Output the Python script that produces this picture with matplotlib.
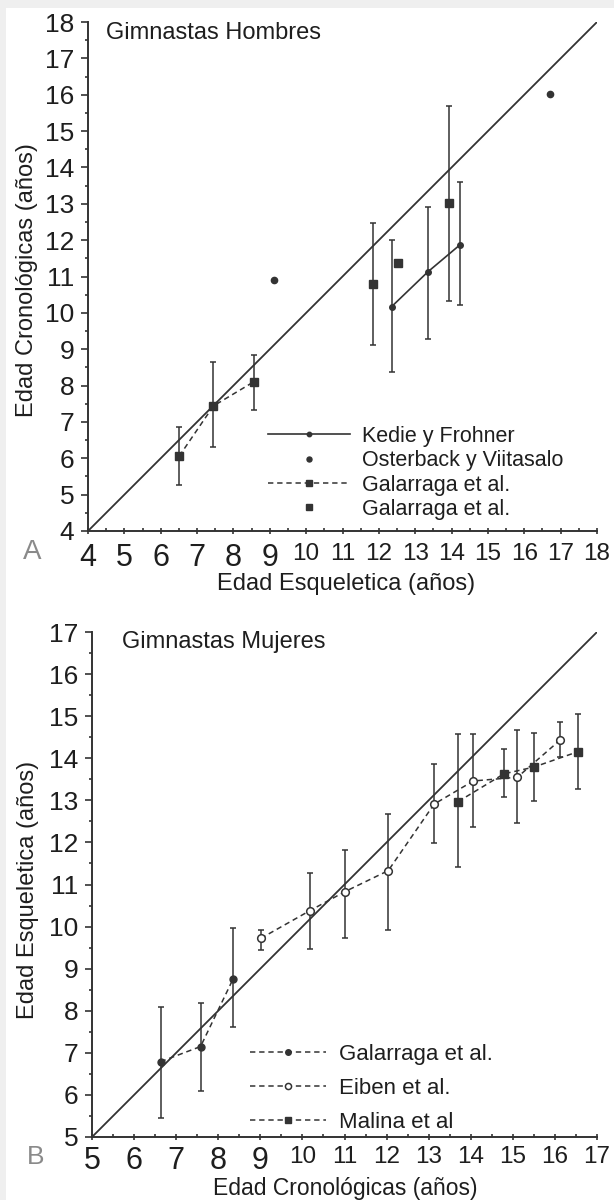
import numpy as np
import matplotlib
matplotlib.use('Agg')
import matplotlib.pyplot as plt
from matplotlib.ticker import MultipleLocator
from matplotlib.patches import Rectangle

plt.rcParams['font.family'] = ['Liberation Sans', 'DejaVu Sans']

INK = '#333333'
TXT = '#1e1e1e'

# Panel A - Gimnastas Hombres
ref_a = [4, 18]

kedie_x = [12.35, 13.35, 14.23]
kedie_y = [10.17, 11.13, 11.87]
kedie_lo = [8.36, 9.27, 10.22]
kedie_hi = [12.00, 12.92, 13.61]

oster_x = [9.12, 16.71]
oster_y = [10.90, 16.02]

gal_line_x = [6.51, 7.45, 8.57]
gal_line_y = [6.06, 7.44, 8.11]
gal_line_lo = [5.27, 6.30, 7.33]
gal_line_hi = [6.87, 8.64, 8.84]

gal_pts_x = [11.85, 12.53, 13.94]
gal_pts_y = [10.79, 11.36, 13.01]
gal_pts_lo = [9.12, np.nan, 10.33]
gal_pts_hi = [12.48, np.nan, 15.69]

legend_a = ['Kedie y Frohner', 'Osterback y Viitasalo', 'Galarraga et al.', 'Galarraga et al.']

# Panel B - Gimnastas Mujeres
ref_b = [5, 17]

galb_x = [6.63, 7.58, 8.35]
galb_y = [6.79, 7.15, 8.75]
galb_lo = [5.44, 6.10, 7.62]
galb_hi = [8.10, 8.19, 9.97]

eiben_x = [9.01, 10.18, 11.01, 12.04, 13.13, 14.06, 15.11, 16.12]
eiben_y = [9.72, 10.38, 10.83, 11.33, 12.91, 13.46, 13.55, 14.43]
eiben_lo = [9.45, 9.46, 9.72, 9.92, 11.98, 12.37, 12.47, 14.04]
eiben_hi = [9.92, 11.27, 11.82, 12.68, 13.87, 14.57, 14.67, 14.85]

malina_x = [13.70, 14.79, 15.50, 16.56]
malina_y = [12.97, 13.63, 13.79, 14.16]
malina_lo = [11.42, 13.07, 12.99, 13.26]
malina_hi = [14.57, 14.21, 14.59, 15.05]

legend_b = ['Galarraga et al.', 'Eiben et al.', 'Malina et al']

DASH = (0, (3.5, 2.5))


def errbars(ax, x, y, lo, hi):
    y = np.asarray(y, float)
    err = [y - np.asarray(lo, float), np.asarray(hi, float) - y]
    ax.errorbar(x, y, yerr=err, fmt='none', ecolor=INK, elinewidth=1.1,
                capsize=2.5, capthick=1.1, clip_on=False, zorder=3)


def style_axes(ax, lo, hi, xpad):
    ax.set_xlim(lo, hi)
    ax.set_ylim(lo, hi)
    for s in ['top', 'right']:
        ax.spines[s].set_visible(False)
    for s in ['left', 'bottom']:
        ax.spines[s].set_color(INK)
        ax.spines[s].set_linewidth(1.4)
    ticks = list(range(lo, hi + 1))
    ax.set_xticks(ticks, labels=[str(t) for t in ticks])
    ax.set_yticks(ticks, labels=[str(t) for t in ticks])
    ax.xaxis.set_minor_locator(MultipleLocator(0.5))
    ax.yaxis.set_minor_locator(MultipleLocator(0.5))
    ax.tick_params(axis='x', which='major', direction='inout', length=5,
                   width=1.2, color=INK, pad=xpad, labelcolor=TXT)
    ax.tick_params(axis='x', which='minor', direction='in', length=2.5,
                   width=1.2, color=INK)
    ax.tick_params(axis='y', which='major', direction='out', length=5,
                   width=1.2, color=INK, pad=5, labelcolor=TXT,
                   labelsize=19)
    ax.tick_params(axis='y', which='minor', direction='out', length=2.5,
                   width=1.2, color=INK)
    # single digit labels are set larger than the two digit ones
    for t in ax.get_xticklabels():
        t.set_fontsize(22 if len(t.get_text()) == 1 else 17.5)


fig = plt.figure(figsize=(6.14, 12.0), dpi=100)
fig.patch.set_facecolor('#efefef')
fig.add_artist(Rectangle((6 / 614, 0), 1, 1 - 8 / 1200, transform=fig.transFigure,
                         facecolor='white', edgecolor='none', zorder=-1))

# ---- Panel A ----
ax1 = fig.add_axes([88 / 614, 1 - 531 / 1200, 509 / 614, 509 / 1200])
ax1.patch.set_alpha(0)
style_axes(ax1, 4, 18, 6)
ax1.plot(ref_a, ref_a, color=INK, lw=1.3, zorder=2)

errbars(ax1, kedie_x, kedie_y, kedie_lo, kedie_hi)
errbars(ax1, gal_line_x, gal_line_y, gal_line_lo, gal_line_hi)
errbars(ax1, gal_pts_x, gal_pts_y, gal_pts_lo, gal_pts_hi)

h1, = ax1.plot(kedie_x, kedie_y, '-', marker='o', ms=4, color=INK, lw=1.2, zorder=4)
h2, = ax1.plot(oster_x, oster_y, 'o', ms=4.5, color=INK, zorder=4, clip_on=False)
h3, = ax1.plot(gal_line_x, gal_line_y, linestyle=DASH, marker='s', ms=5.5,
               color=INK, lw=1.1, zorder=4)
h4, = ax1.plot(gal_pts_x, gal_pts_y, 's', ms=5.5, color=INK, zorder=4)

ax1.text(0.035, 0.978, 'Gimnastas Hombres', transform=ax1.transAxes,
         fontsize=17, color=TXT, ha='left', va='center')

leg1 = ax1.legend([h1, h2, h3, h4], legend_a, loc='upper left',
                  bbox_to_anchor=(0.354, 0.207), frameon=False, fontsize=15.5,
                  handlelength=3.8, handletextpad=0.55, labelspacing=0.16,
                  borderpad=0, borderaxespad=0, numpoints=1, markerscale=0.8)
for t in leg1.get_texts():
    t.set_color(TXT)

# ---- Panel B ----
ax2 = fig.add_axes([92 / 614, 1 - 1137 / 1200, 505 / 614, 505 / 1200])
ax2.patch.set_alpha(0)
style_axes(ax2, 5, 17, 4)
ax2.plot(ref_b, ref_b, color=INK, lw=1.3, zorder=2)

errbars(ax2, galb_x, galb_y, galb_lo, galb_hi)
errbars(ax2, eiben_x, eiben_y, eiben_lo, eiben_hi)
errbars(ax2, malina_x, malina_y, malina_lo, malina_hi)

g1, = ax2.plot(galb_x, galb_y, linestyle=DASH, marker='o', ms=5, color=INK,
               lw=1.1, zorder=4)
g2, = ax2.plot(eiben_x, eiben_y, linestyle=DASH, marker='o', ms=5.5, color=INK,
               mfc='white', mec=INK, mew=1.1, lw=1.1, zorder=4)
g3, = ax2.plot(malina_x, malina_y, linestyle=DASH, marker='s', ms=5.5, color=INK,
               lw=1.1, zorder=4, clip_on=False)

ax2.text(0.06, 0.98, 'Gimnastas Mujeres', transform=ax2.transAxes,
         fontsize=17, color=TXT, ha='left', va='center')

leg2 = ax2.legend([g1, g2, g3], legend_b, loc='upper left',
                  bbox_to_anchor=(0.313, 0.185), frameon=False, fontsize=16,
                  handlelength=3.4, handletextpad=0.6, labelspacing=0.6,
                  borderpad=0, borderaxespad=0, numpoints=1, markerscale=0.8)
for t in leg2.get_texts():
    t.set_color(TXT)

# axis titles and panel letters
fig.text(346 / 614, 1 - 584 / 1200, 'Edad Esqueletica (años)', fontsize=17,
         ha='center', va='center', color=TXT)
fig.text(27 / 614, 1 - 280 / 1200, 'Edad Cronológicas (años)', fontsize=17,
         rotation=90, ha='center', va='center', color=TXT)
fig.text(345 / 614, 1 - 1188 / 1200, 'Edad Cronológicas (años)', fontsize=16.5,
         ha='center', va='center', color=TXT)
fig.text(28 / 614, 1 - 890 / 1200, 'Edad Esqueletica (años)', fontsize=17,
         rotation=90, ha='center', va='center', color=TXT)
fig.text(32 / 614, 1 - 552 / 1200, 'A', fontsize=20, ha='center', va='center',
         color='#8a8a8a')
fig.text(36 / 614, 1 - 1157 / 1200, 'B', fontsize=19, ha='center', va='center',
         color='#8a8a8a')

fig.savefig('out.png', dpi=100)
